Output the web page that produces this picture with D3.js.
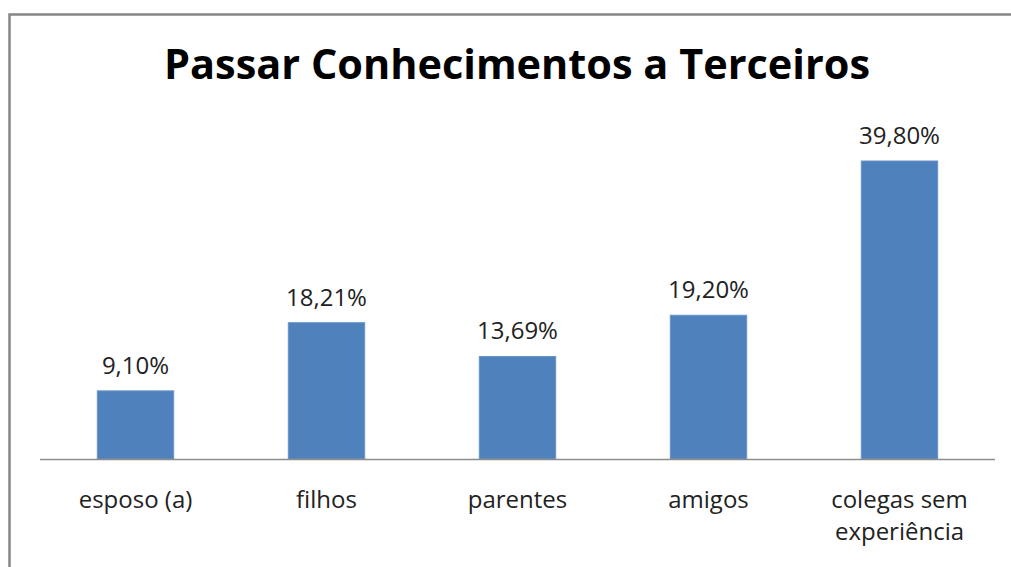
<!DOCTYPE html>
<html>
<head>
<meta charset="utf-8">
<script src="https://cdn.jsdelivr.net/npm/d3@7"></script>
<style>
  body { margin: 0; background: #fff; }
  svg { display: block; }
</style>
</head>
<body>
<div id="chart"></div>
<script>
// data
const categories = ["esposo (a)", "filhos", "parentes", "amigos", "colegas sem experiência"];
const values = [9.10, 18.21, 13.69, 19.20, 39.80];
const valueLabels = ["9,10%", "18,21%", "13,69%", "19,20%", "39,80%"];
const categoryLines = [["esposo (a)"], ["filhos"], ["parentes"], ["amigos"], ["colegas sem", "experiência"]];

const width = 1011, height = 567;
const svg = d3.select("#chart").append("svg")
    .attr("width", width)
    .attr("height", height)
    .style("font-family", "'Open Sans', 'Noto Sans', sans-serif");

// outer frame (runs off the right and bottom edge)
svg.append("rect")
    .attr("x", 9.5).attr("y", 14.5)
    .attr("width", 1010).attr("height", 600)
    .attr("fill", "#fff")
    .attr("stroke", "#878787")
    .attr("stroke-width", 2.5);

// title
svg.append("text")
    .attr("x", 517).attr("y", 79)
    .attr("text-anchor", "middle")
    .attr("font-size", 41)
    .attr("font-weight", "bold")
    .attr("fill", "#000")
    .attr("textLength", 706)
    .attr("lengthAdjust", "spacingAndGlyphs")
    .text("Passar Conhecimentos a Terceiros");

const x = d3.scaleBand()
    .domain(categories)
    .range([40, 995])
    .paddingInner(0.6)
    .paddingOuter(0.3);

const y = d3.scaleLinear()
    .domain([0, 39.80])
    .range([459, 161]);

// bars
svg.append("g")
    .selectAll("rect")
    .data(values)
    .join("rect")
    .attr("x", (d, i) => x(categories[i]))
    .attr("y", d => y(d))
    .attr("width", x.bandwidth())
    .attr("height", d => y(0) - y(d))
    .attr("fill", "#4F81BD")
    .attr("stroke", "#6A95C9")
    .attr("stroke-width", 1);

// value labels
svg.append("g")
    .selectAll("text")
    .data(values)
    .join("text")
    .attr("x", (d, i) => x(categories[i]) + x.bandwidth() / 2)
    .attr("y", d => y(d) - 17)
    .attr("text-anchor", "middle")
    .attr("font-size", 24)
    .attr("fill", "#222")
    .text((d, i) => valueLabels[i]);

// baseline
svg.append("line")
    .attr("x1", 40).attr("x2", 995)
    .attr("y1", y(0) + 0.5).attr("y2", y(0) + 0.5)
    .attr("stroke", "#8c8c8c")
    .attr("stroke-width", 1.5);

// category labels
const cat = svg.append("g")
    .selectAll("text")
    .data(categories)
    .join("text")
    .attr("x", d => x(d) + x.bandwidth() / 2)
    .attr("y", 508)
    .attr("text-anchor", "middle")
    .attr("font-size", 24)
    .attr("fill", "#222");

cat.selectAll("tspan")
    .data((d, i) => categoryLines[i])
    .join("tspan")
    .attr("x", function() { return this.parentNode.getAttribute("x"); })
    .attr("dy", (d, i) => i === 0 ? 0 : 32)
    .text(d => d);
</script>
</body>
</html>
